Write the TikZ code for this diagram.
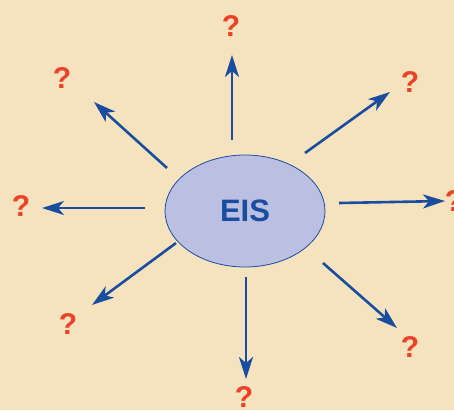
\documentclass[tikz,border=0pt]{standalone}
\usepackage{fontspec}
\setmainfont{Liberation Sans}
\usetikzlibrary{arrows.meta,shapes.geometric}
\definecolor{bg}{HTML}{F4E3BE}
\definecolor{ellfill}{HTML}{BBBFE1}
\definecolor{blueline}{HTML}{1A4DA0}
\definecolor{qred}{HTML}{EC4126}
\tikzset{
  qm/.style={text=qred, font=\fontsize{30}{30}\selectfont\bfseries, inner sep=0pt},
  ray/.style={draw=blueline, line width=2.6pt, -{Stealth[length=22pt, width=14pt, inset=6pt]}},
}
\begin{document}
\begin{tikzpicture}[x=1pt, y=-1pt]
\fill[bg] (0,0) rectangle (454,410);
\useasboundingbox (0,0) rectangle (454,410);
\node[ellipse, draw=blueline, line width=0.8pt, fill=ellfill, minimum width=160pt, minimum height=112pt, inner sep=0pt,
  text=blueline, font=\fontsize{31}{31}\selectfont\bfseries] (eis) at (245,211) {EIS};
% start/end coordinates
\coordinate (s1) at (232,140); \coordinate (e1) at (232,55);
\coordinate (s2) at (305,153); \coordinate (e2) at (390,92);
\coordinate (s3) at (339,203); \coordinate (e3) at (445,201);
\coordinate (s4) at (323,263); \coordinate (e4) at (397,328);
\coordinate (s5) at (246,277); \coordinate (e5) at (246,379);
\coordinate (s6) at (176,243); \coordinate (e6) at (92,305);
\coordinate (s7) at (145,208); \coordinate (e7) at (42,208);
\coordinate (s8) at (167,168); \coordinate (e8) at (94,102);
\foreach \i in {1,...,8} { \draw[ray] (s\i) -- (e\i); }
\node[qm] (q1) at (231,26) {?};
\node[qm] (q2) at (410,82) {?};
\node[qm] (q3) at (454,201) {?};
\node[qm] (q4) at (410,347) {?};
\node[qm] (q5) at (244,397) {?};
\node[qm] (q6) at (68,324) {?};
\node[qm] (q7) at (21,206) {?};
\node[qm] (q8) at (62,78) {?};
\end{tikzpicture}
\end{document}
